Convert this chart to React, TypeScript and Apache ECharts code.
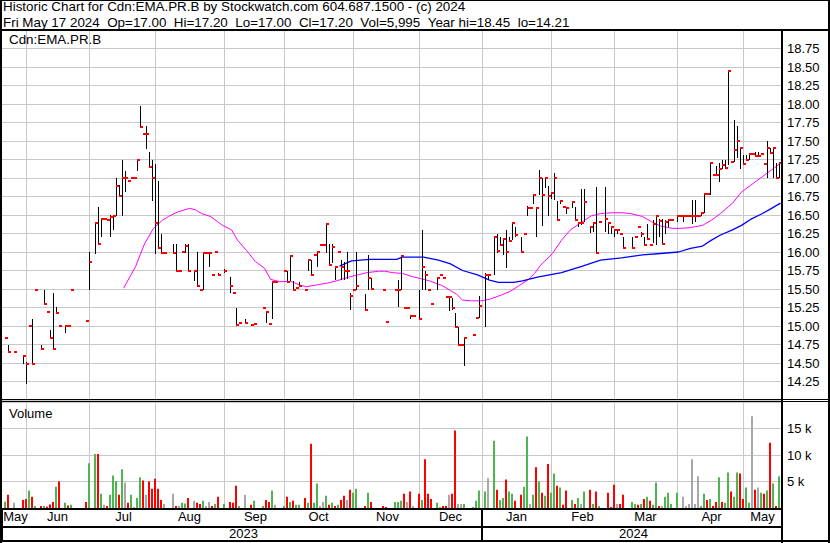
import React, { useEffect, useRef } from "react";
import * as echarts from "echarts";

const FONT = '"Liberation Sans", Arial, Helvetica, sans-serif';

const HEADER_LINE_1 = "Historic Chart for Cdn:EMA.PR.B by Stockwatch.com 604.687.1500 - (c) 2024";
const HEADER_LINE_2 =
  "Fri May 17 2024\u00a0\u00a0Op=17.00\u00a0\u00a0Hi=17.20\u00a0\u00a0Lo=17.00\u00a0\u00a0Cl=17.20\u00a0\u00a0Vol=5,995\u00a0\u00a0Year hi=18.45\u00a0\u00a0lo=14.21";
const SYMBOL_LABEL = "Cdn:EMA.PR.B";
const VOLUME_LABEL = "Volume";

// trading-day slots per month as laid out on the time axis
const MONTHS: [string, number][] = [
  ["May", 8], ["Jun", 21], ["Jul", 22], ["Aug", 23], ["Sep", 20], ["Oct", 23],
  ["Nov", 22], ["Dec", 21], ["Jan", 23], ["Feb", 21], ["Mar", 21], ["Apr", 22], ["May", 13],
];
const YEARS: [string, number][] = [["2023", 160], ["2024", 100]];

const PRICE_MIN = 14;
const PRICE_MAX = 19;
const PRICE_STEP = 0.25;
const VOLUME_MIN = 0;
const VOLUME_MAX = 20000;
const VOLUME_STEP = 5000;

// [day slot, high, low, close]
const PRICE_BARS: [number, number, number, number][] = [
  [1,14.84,14.84,14.84],[2,14.75,14.65,14.65],[4,14.65,14.65,14.65],[7,14.61,14.49,14.60],
  [8,14.52,14.21,14.49],[9,15.00,15.00,15.00],[10,15.10,14.49,14.49],[11,15.48,15.48,15.48],
  [13,14.75,14.68,14.69],[14,15.48,15.30,15.30],[15,15.19,15.19,15.19],[16,14.95,14.83,14.84],
  [17,15.45,14.69,14.69],[18,15.26,15.18,15.18],[19,15.00,15.00,15.00],[21,15.00,14.91,15.00],
  [22,15.00,15.00,15.00],[23,15.49,15.49,15.49],[28,15.07,15.07,15.07],[29,16.00,15.49,15.87],
  [31,16.39,15.97,16.39],[32,16.61,16.11,16.11],[33,16.45,16.20,16.45],[34,16.45,16.45,16.45],
  [35,16.43,16.43,16.43],[36,16.50,16.20,16.47],[37,16.48,16.30,16.48],[38,17.00,16.48,16.89],
  [39,16.90,16.75,16.75],[40,17.25,16.48,17.00],[41,17.10,16.81,17.00],[42,16.96,16.96,16.96],
  [43,17.00,17.00,17.00],[44,17.00,17.00,17.00],[45,17.25,17.10,17.25],[46,17.97,17.69,17.69],
  [47,17.59,17.59,17.59],[48,17.70,17.39,17.59],[49,17.35,17.15,17.15],[50,17.25,16.69,17.00],
  [51,17.19,15.97,16.39],[52,16.96,16.05,16.05],[53,16.25,15.99,15.99],[54,15.99,15.99,15.99],
  [57,16.11,15.99,15.99],[58,16.11,15.75,15.75],[59,15.75,15.75,15.75],[60,16.00,16.00,16.00],
  [61,16.11,15.98,16.08],[62,16.11,15.75,15.75],[64,15.75,15.61,15.75],[65,16.00,15.54,15.54],
  [66,15.50,15.48,15.49],[67,16.00,15.48,15.99],[68,15.99,15.99,15.99],[69,16.00,15.80,15.99],
  [70,15.69,15.69,15.69],[71,16.00,16.00,16.00],[72,15.72,15.69,15.69],[74,15.77,15.72,15.75],
  [76,15.66,15.45,15.54],[77,15.45,15.45,15.45],[78,15.25,15.01,15.01],[79,15.04,15.04,15.04],
  [81,15.10,15.04,15.04],[83,15.02,15.02,15.02],[84,15.03,15.03,15.03],[87,15.25,15.25,15.25],
  [88,15.19,15.04,15.19],[89,15.03,15.03,15.03],[90,15.59,15.10,15.59],[91,15.59,15.59,15.59],
  [94,15.75,15.75,15.75],[95,15.75,15.60,15.60],[96,15.94,15.61,15.94],[97,15.61,15.48,15.48],
  [98,15.51,15.51,15.51],[99,15.60,15.53,15.54],[101,15.48,15.48,15.48],[102,15.89,15.75,15.89],
  [103,15.89,15.69,15.69],[104,15.96,15.96,15.96],[105,16.00,15.80,16.00],[106,16.09,16.09,16.09],
  [107,16.09,16.09,16.09],[108,16.39,15.99,16.38],[109,16.11,15.83,15.83],[110,16.11,15.85,16.07],
  [111,15.80,15.62,15.80],[112,16.00,16.00,16.00],[113,15.89,15.62,15.80],[114,15.87,15.62,15.75],
  [115,16.00,15.63,15.75],[116,15.45,15.22,15.40],[117,15.49,15.49,15.49],[118,16.00,15.48,15.54],
  [121,15.43,15.22,15.22],[122,15.96,15.48,15.65],[123,15.65,15.50,15.50],[127,15.49,15.49,15.49],
  [128,15.06,15.06,15.06],[131,15.49,15.49,15.49],[132,15.62,15.26,15.49],[133,15.96,15.48,15.94],
  [134,15.25,15.25,15.25],[135,15.25,15.25,15.25],[136,15.15,15.09,15.14],[137,15.14,15.14,15.14],
  [139,15.49,15.10,15.10],[140,16.30,15.48,15.80],[141,15.75,15.48,15.69],[142,15.49,15.49,15.49],
  [143,15.30,15.30,15.30],[145,15.65,15.48,15.65],[146,15.69,15.69,15.69],[147,15.65,15.65,15.65],
  [148,15.39,15.39,15.39],[149,15.39,15.20,15.39],[150,15.38,15.22,15.25],[151,15.17,14.99,14.99],
  [152,14.99,14.75,14.75],[153,14.75,14.75,14.75],[154,14.84,14.46,14.84],[157,14.88,14.88,14.88],
  [158,15.11,15.11,15.11],[159,15.40,15.11,15.27],[161,15.72,14.99,15.69],[162,15.70,15.62,15.69],
  [164,16.20,15.69,16.20],[165,16.25,15.98,16.02],[166,16.20,16.08,16.09],[167,16.19,15.96,16.18],
  [168,16.30,15.78,16.00],[169,16.20,16.15,16.15],[170,16.40,16.16,16.39],[171,16.34,16.20,16.23],
  [173,16.20,16.00,16.00],[174,16.24,16.24,16.24],[175,16.62,16.49,16.60],[176,16.60,16.60,16.60],
  [177,16.77,16.65,16.77],[178,16.61,16.20,16.60],[179,17.11,16.77,17.00],[180,17.00,16.35,16.77],
  [181,17.00,16.86,17.00],[182,16.89,16.49,16.75],[183,16.80,16.72,16.80],[184,17.07,16.70,17.00],
  [185,16.69,16.43,16.43],[186,16.69,16.65,16.69],[187,16.61,16.61,16.61],[188,16.61,16.51,16.60],
  [190,16.69,16.59,16.68],[191,16.61,16.43,16.43],[192,16.41,16.34,16.39],[193,16.85,16.36,16.39],
  [194,16.85,16.41,16.68],[196,16.34,16.26,16.34],[197,16.39,16.27,16.39],[198,16.88,15.99,15.99],
  [199,16.41,16.41,16.41],[201,16.88,16.27,16.45],[202,16.39,16.25,16.39],[203,16.34,16.25,16.34],
  [204,16.30,16.20,16.30],[205,16.30,16.25,16.30],[206,16.25,16.25,16.25],[207,16.20,16.04,16.05],
  [210,16.20,16.04,16.06],[211,16.20,16.20,16.20],[212,16.34,16.34,16.34],[213,16.27,16.20,16.25],
  [214,16.20,16.10,16.10],[215,16.38,16.17,16.17],[216,16.10,16.10,16.10],[217,16.43,16.12,16.38],
  [218,16.50,16.10,16.49],[219,16.44,16.20,16.42],[220,16.44,16.11,16.11],[221,16.43,16.25,16.41],
  [222,16.43,16.34,16.43],[223,16.43,16.43,16.43],[225,16.50,16.41,16.48],[226,16.48,16.48,16.48],
  [227,16.48,16.41,16.48],[228,16.48,16.48,16.48],[229,16.48,16.48,16.48],[230,16.70,16.38,16.48],
  [231,16.70,16.41,16.48],[232,16.48,16.48,16.48],[233,16.53,16.48,16.53],[234,16.80,16.53,16.78],
  [235,16.78,16.78,16.78],[236,17.20,16.77,17.20],[237,17.04,17.04,17.04],[238,17.16,17.03,17.04],
  [239,17.20,16.95,17.12],[240,17.25,17.12,17.18],[241,17.25,17.14,17.14],[242,18.45,17.18,18.45],
  [243,17.21,17.21,17.21],[244,17.78,17.22,17.38],[245,17.70,17.27,17.50],[246,17.40,17.12,17.40],
  [247,17.31,17.19,17.19],[248,17.31,17.25,17.25],[249,17.34,17.25,17.33],[250,17.33,17.33,17.33],
  [251,17.35,17.30,17.30],[252,17.35,17.30,17.30],[253,17.33,17.33,17.33],[254,17.19,17.19,17.19],
  [255,17.50,17.00,17.40],[256,17.40,17.34,17.34],[257,17.40,17.00,17.40],[258,17.20,17.00,17.00],
  [259,17.20,17.00,17.20],
];

// [day slot, shares, change vs previous close: 1 up, -1 down, 0 unchanged]
const VOLUMES: [number, number, number][] = [
  [1,1200,1],[2,2500,-1],[4,1000,0],[7,1500,-1],[8,1700,-1],[9,3300,1],[10,2100,-1],[11,400,1],
  [13,400,-1],[14,400,1],[15,250,-1],[16,650,-1],[17,1150,-1],[18,4000,1],[19,5000,-1],[21,1000,1],
  [22,450,-1],[23,600,1],[28,1150,-1],[29,8450,1],[31,10200,1],[32,10200,-1],[33,2700,1],[34,600,0],
  [35,400,-1],[36,2500,1],[37,6150,1],[38,5100,1],[39,2500,-1],[40,7300,1],[41,4800,0],[42,1000,-1],
  [43,2500,1],[44,200,0],[45,1900,1],[46,5800,1],[47,5200,-1],[48,2500,0],[49,5000,-1],[50,3650,-1],
  [51,5500,-1],[52,3650,-1],[53,1500,-1],[54,770,0],[57,2700,0],[58,400,-1],[59,400,0],[60,1000,1],
  [61,830,1],[62,1900,-1],[64,1350,0],[65,1000,-1],[66,770,-1],[67,1350,1],[68,400,0],[69,1150,0],
  [70,400,-1],[71,770,1],[72,2100,-1],[74,770,1],[76,1150,-1],[77,1000,-1],[78,4200,-1],[79,400,1],
  [81,2500,0],[83,600,-1],[84,1350,1],[87,400,1],[88,1500,-1],[89,1150,-1],[90,3300,1],[91,600,0],
  [94,400,1],[95,2100,-1],[96,1150,1],[97,1350,-1],[98,600,1],[99,600,1],[101,1900,-1],[102,1000,1],
  [103,12100,-1],[104,1000,1],[105,4600,1],[106,400,0],[107,1150,0],[108,2300,1],[109,600,-1],[110,1000,1],
  [111,400,-1],[112,600,1],[113,1500,-1],[114,2300,-1],[115,1500,0],[116,3450,-1],[117,2900,1],[118,3650,1],
  [121,400,-1],[122,2900,1],[123,1150,-1],[127,400,-1],[128,200,-1],[131,1150,1],[132,1150,1],[133,1350,1],
  [134,2700,-1],[135,1150,0],[136,3100,-1],[137,400,0],[139,2700,-1],[140,1500,1],[141,9200,-1],[142,2700,-1],
  [143,1700,-1],[145,1000,1],[146,200,1],[147,400,-1],[148,400,-1],[149,2500,0],[150,2700,-1],[151,14600,-1],
  [152,770,0],[153,770,0],[154,770,1],[157,200,1],[158,1350,1],[159,3300,1],[161,3100,1],[162,5600,0],
  [164,12700,1],[165,3450,-1],[166,1500,1],[167,1900,1],[168,5400,-1],[169,3100,1],[170,2700,1],[171,1350,-1],
  [173,2500,-1],[174,4000,1],[175,13500,1],[176,770,0],[177,2500,1],[178,7700,-1],[179,5000,1],[180,2900,-1],
  [181,2300,1],[182,8300,-1],[183,2900,1],[184,6500,1],[185,4200,-1],[186,3850,1],[187,600,-1],[188,3300,-1],
  [190,1500,1],[191,770,-1],[192,1900,1],[193,770,0],[194,3100,1],[196,3450,-1],[197,770,1],[198,3100,-1],
  [199,400,1],[202,2900,-1],[203,200,-1],[204,4400,-1],[205,770,0],[206,770,-1],[207,2500,-1],[210,1150,1],
  [211,770,1],[212,600,-1],[213,770,1],[214,1700,-1],[215,2100,1],[216,1350,-1],[217,600,1],[218,4800,1],
  [219,400,-1],[220,400,0],[221,2100,1],[222,2900,1],[223,770,1],[225,2900,1],[227,2100,0],[228,400,0],
  [229,770,0],[230,9200,0],[231,770,0],[232,6000,0],[233,400,1],[234,2700,1],[235,1500,-1],[236,1700,1],
  [237,400,-1],[238,1150,-1],[239,5800,1],[240,1150,-1],[241,1000,1],[242,6700,1],[243,3100,-1],[244,2100,1],
  [245,6700,1],[246,6500,-1],[247,1700,-1],[248,3850,1],[249,1000,1],[250,17300,0],[251,3450,-1],[252,3850,0],
  [253,2900,1],[254,2700,-1],[255,3300,1],[256,12300,-1],[257,4600,1],[258,400,-1],[259,5995,1],
];

// moving averages: [day slot, value]
const MA_FAST: [number, number][] = [
  [40,15.51],[44,15.80],[47,16.11],[50,16.32],[53,16.43],[55,16.48],[58,16.54],[62,16.59],[64,16.57],
  [66,16.52],[69,16.48],[73,16.36],[76,16.30],[78,16.16],[81,16.02],[84,15.87],[87,15.78],[89,15.63],
  [92,15.60],[96,15.60],[99,15.55],[101,15.53],[105,15.56],[108,15.58],[111,15.61],[115,15.66],[118,15.69],
  [121,15.72],[125,15.74],[127,15.74],[130,15.72],[133,15.71],[136,15.67],[139,15.64],[142,15.61],[146,15.55],
  [149,15.48],[151,15.43],[153,15.35],[156,15.34],[159,15.34],[162,15.36],[166,15.42],[169,15.47],[172,15.55],
  [175,15.63],[177,15.71],[179,15.82],[183,15.98],[186,16.16],[189,16.30],[193,16.41],[196,16.49],[199,16.52],
  [203,16.53],[206,16.53],[209,16.52],[213,16.48],[216,16.41],[219,16.35],[223,16.32],[226,16.32],[229,16.33],
  [233,16.36],[236,16.43],[239,16.52],[243,16.66],[246,16.81],[249,16.90],[253,17.02],[256,17.11],[259,17.20],
];
const MA_SLOW: [number, number][] = [
  [112,15.81],[116,15.88],[122,15.90],[131,15.90],[133,15.93],[140,15.93],[145,15.89],[149,15.84],[153,15.75],
  [158,15.69],[162,15.62],[165,15.59],[170,15.59],[173,15.61],[178,15.66],[182,15.69],[186,15.72],[193,15.81],
  [199,15.89],[206,15.92],[213,15.96],[219,15.98],[225,16.00],[229,16.05],[233,16.08],[236,16.16],[239,16.23],
  [243,16.30],[246,16.36],[249,16.44],[253,16.52],[256,16.59],[259,16.66],
];

const UP = "#50b450";
const DOWN = "#ff0000";
const FLAT = "#a8a8a8";
const GRID_LINE = { color: "#c8c8c8", width: 1 };

// derived axis structure
const monthStarts: number[] = [];
const categories: string[] = [];
{
  let acc = 0;
  let yearIdx = 0;
  let yearLeft = YEARS[0][1];
  MONTHS.forEach(([m, n]) => {
    monthStarts.push(acc);
    for (let k = 0; k < n; k++) {
      categories.push(`${m} ${k + 1} ${YEARS[yearIdx][0]}`);
      yearLeft--;
      if (yearLeft === 0 && yearIdx < YEARS.length - 1) {
        yearIdx++;
        yearLeft = YEARS[yearIdx][1];
      }
    }
    acc += n;
  });
}
const monthSplit = new Set(monthStarts.slice(1));
const monthLabelAt = new Map<number, string>();
MONTHS.forEach(([m, n], k) => monthLabelAt.set(monthStarts[k] + Math.floor(n / 2), m));
const yearStarts: number[] = [];
const yearLabelAt = new Map<number, string>();
{
  let acc = 0;
  YEARS.forEach(([y, n]) => {
    yearStarts.push(acc);
    yearLabelAt.set(acc + Math.floor(n / 2), y);
    acc += n;
  });
}
const yearTickSet = new Set(yearStarts);

export default function App() {
  const ref = useRef<HTMLDivElement>(null);
  useEffect(() => {
    if (!ref.current) return;
    const chart = echarts.init(ref.current, null, { renderer: "svg" });
    const black = "#000";
    const frame = (x1: number, y1: number, x2: number, y2: number, w: number) => ({
      type: "line",
      z: 100,
      silent: true,
      shape: { x1, y1, x2, y2 },
      style: { stroke: black, lineWidth: w },
    });
    const option: any = {
      animation: false,
      backgroundColor: "#ffffff",
      textStyle: { fontFamily: FONT },
      grid: [
        { left: 2, top: 30, width: 780, height: 370 },
        { left: 2, top: 402, width: 780, height: 106 },
      ],
      xAxis: [
        {
          type: "category",
          gridIndex: 0,
          data: categories,
          boundaryGap: true,
          axisLine: { show: false },
          axisTick: { show: false },
          axisLabel: { show: false },
          splitLine: { show: true, interval: (i: number) => monthSplit.has(i), lineStyle: GRID_LINE },
        },
        {
          type: "category",
          gridIndex: 1,
          data: categories,
          boundaryGap: true,
          position: "bottom",
          axisLine: { show: false },
          axisTick: {
            show: true,
            interval: (i: number) => yearTickSet.has(i),
            length: 33,
            lineStyle: { color: black, width: 2 },
          },
          axisLabel: {
            show: true,
            interval: (i: number) => monthLabelAt.has(i),
            formatter: (_v: string, i: number) => monthLabelAt.get(i) ?? "",
            margin: 2,
            fontSize: 13,
            color: black,
            fontFamily: FONT,
          },
          splitLine: { show: true, interval: (i: number) => monthSplit.has(i), lineStyle: GRID_LINE },
        },
        {
          type: "category",
          gridIndex: 1,
          data: categories,
          boundaryGap: true,
          position: "bottom",
          offset: 17,
          axisLine: { show: false },
          axisTick: { show: false },
          axisLabel: {
            show: true,
            interval: (i: number) => yearLabelAt.has(i),
            formatter: (_v: string, i: number) => yearLabelAt.get(i) ?? "",
            margin: 2,
            fontSize: 13,
            color: black,
            fontFamily: FONT,
          },
          splitLine: { show: false },
        },
      ],
      yAxis: [
        {
          type: "value",
          gridIndex: 0,
          position: "right",
          min: PRICE_MIN,
          max: PRICE_MAX,
          interval: PRICE_STEP,
          axisLine: { show: false },
          axisTick: { show: false },
          splitLine: { show: true, lineStyle: GRID_LINE },
          axisLabel: {
            margin: 5,
            fontSize: 13,
            color: black,
            fontFamily: FONT,
            formatter: (v: number) => (v > PRICE_MIN && v < PRICE_MAX ? v.toFixed(2) : ""),
          },
        },
        {
          type: "value",
          gridIndex: 1,
          position: "right",
          min: VOLUME_MIN,
          max: VOLUME_MAX,
          interval: VOLUME_STEP,
          axisLine: { show: false },
          axisTick: { show: false },
          splitLine: { show: true, lineStyle: GRID_LINE },
          axisLabel: {
            margin: 5,
            fontSize: 13,
            color: black,
            fontFamily: FONT,
            formatter: (v: number) => (v > VOLUME_MIN && v < VOLUME_MAX ? `${v / 1000} k` : ""),
          },
        },
      ],
      series: [
        {
          name: "MA fast",
          type: "line",
          xAxisIndex: 0,
          yAxisIndex: 0,
          data: MA_FAST,
          symbol: "none",
          z: 1,
          lineStyle: { color: "#ff00ff", width: 1 },
        },
        {
          name: "MA slow",
          type: "line",
          xAxisIndex: 0,
          yAxisIndex: 0,
          data: MA_SLOW,
          symbol: "none",
          z: 1,
          lineStyle: { color: "#0000ff", width: 1.3 },
        },
        {
          name: "Price",
          type: "custom",
          xAxisIndex: 0,
          yAxisIndex: 0,
          z: 3,
          data: PRICE_BARS,
          encode: { x: 0, y: [1, 2, 3] },
          renderItem: (_p: any, api: any) => {
            const day = api.value(0);
            const hi = api.coord([day, api.value(1)]);
            const lo = api.coord([day, api.value(2)]);
            const cl = api.coord([day, api.value(3)]);
            const left = Math.round(hi[0] - 1.5);
            const top = Math.round(hi[1]);
            const bottom = Math.round(lo[1]);
            return {
              type: "group",
              children: [
                {
                  type: "rect",
                  shape: { x: left, y: top, width: 1, height: Math.max(1, bottom - top) },
                  style: { fill: black },
                },
                {
                  type: "rect",
                  shape: { x: left, y: Math.round(cl[1]) - 1, width: 3, height: 2 },
                  style: { fill: "#ff0000" },
                },
              ],
            };
          },
        },
        {
          name: "Volume",
          type: "custom",
          xAxisIndex: 1,
          yAxisIndex: 1,
          z: 3,
          data: VOLUMES,
          encode: { x: 0, y: 1 },
          renderItem: (_p: any, api: any) => {
            const day = api.value(0);
            const top = api.coord([day, api.value(1)]);
            const base = api.coord([day, 0]);
            const dir = api.value(2);
            return {
              type: "rect",
              shape: { x: Math.round(top[0] - 2.5), y: top[1], width: 2, height: base[1] - top[1] },
              style: { fill: dir > 0 ? UP : dir < 0 ? DOWN : FLAT },
            };
          },
        },
      ],
      graphic: [
        frame(0, 0.5, 830, 0.5, 1),
        frame(1, 0, 1, 543, 2),
        frame(829, 0, 829, 543, 2),
        frame(0, 541, 830, 541, 2),
        frame(0, 30, 830, 30, 2),
        frame(0, 399.5, 830, 399.5, 1),
        frame(0, 401.5, 830, 401.5, 1),
        frame(0, 509, 782, 509, 2),
        frame(0, 527, 782, 527, 2),
        frame(782, 30, 782, 543, 2),
        {
          type: "text",
          z: 101,
          x: 3,
          y: 6.5,
          style: { text: HEADER_LINE_1, fontSize: 13.4, fontFamily: FONT, fill: black, align: "left", verticalAlign: "middle" },
        },
        {
          type: "text",
          z: 101,
          x: 3,
          y: 22,
          style: { text: HEADER_LINE_2, fontSize: 13.4, fontFamily: FONT, fill: black, align: "left", verticalAlign: "middle" },
        },
        {
          type: "text",
          z: 101,
          x: 9,
          y: 39.5,
          style: { text: SYMBOL_LABEL, fontSize: 13.4, fontFamily: FONT, fill: black, align: "left", verticalAlign: "middle" },
        },
        {
          type: "text",
          z: 101,
          x: 9,
          y: 413,
          style: { text: VOLUME_LABEL, fontSize: 13, fontFamily: FONT, fill: black, align: "left", verticalAlign: "middle" },
        },
      ],
    };
    chart.setOption(option);
    return () => chart.dispose();
  }, []);
  return (
    <div
      ref={ref}
      style={{ position: "absolute", left: 0, top: 0, width: 830, height: 543, background: "#fff" }}
    />
  );
}
